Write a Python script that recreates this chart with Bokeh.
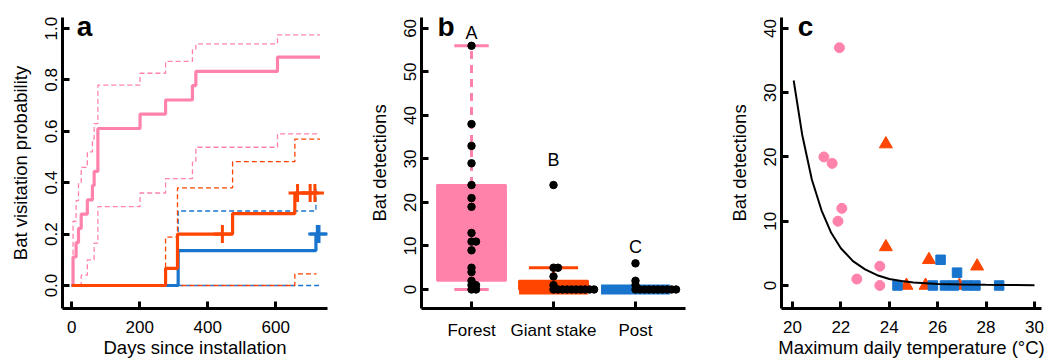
from bokeh.plotting import figure
from bokeh.layouts import row
from bokeh.models import FixedTicker, Label, Range1d, PrintfTickFormatter
from bokeh.embed import file_html
from bokeh.resources import INLINE
from bokeh.core.properties import value

PINK = "#FF82AB"
ORANGE = "#FF4500"
BLUE = "#1874CD"
FONT = "Liberation Sans"

# ---------------- Panel a: Kaplan-Meier style curves ----------------
forest_days = [0, 4, 13, 20, 28, 46, 61, 66, 77, 201, 276, 355, 365, 605, 730]
forest_prob = [0, 0.111, 0.167, 0.222, 0.278, 0.333, 0.389, 0.444, 0.611, 0.667, 0.722, 0.778, 0.833, 0.889, 0.889]
forest_up_days = [0, 4, 13, 20, 28, 46, 61, 66, 77, 201, 276, 355, 365, 605, 730]
forest_up = [0, 0.25, 0.33, 0.40, 0.46, 0.52, 0.57, 0.63, 0.78, 0.826, 0.872, 0.92, 0.94, 0.975, 0.975]
forest_lo_days = [0, 28, 46, 66, 77, 201, 276, 355, 365, 605, 730]
forest_lo = [0, 0.04, 0.10, 0.165, 0.307, 0.36, 0.416, 0.48, 0.538, 0.59, 0.59]

giant_days = [0, 276, 311, 473, 656, 715]
giant_prob = [0, 0.067, 0.2, 0.28, 0.36, 0.36]
giant_cens_days = [443, 664, 701, 715]
giant_cens_prob = [0.2, 0.36, 0.36, 0.36]
giant_up_days = [0, 276, 311, 473, 656, 730]
giant_up = [0, 0.188, 0.38, 0.482, 0.57, 0.57]
giant_lo_days = [276, 656, 720]
giant_lo = [0, 0.045, 0.045]

post_days = [0, 313, 718, 727]
post_prob = [0, 0.136, 0.2, 0.2]
post_cens_days = [722, 727]
post_cens_prob = [0.2, 0.2]
post_up_days = [0, 313, 718, 724]
post_up = [0, 0.29, 0.38, 0.38]
post_lo_days = [313, 727]
post_lo = [0, 0]

# ---------------- Panel b: detections per structure ----------------
cats = ["Forest", "Giant stake", "Post"]
forest_det = [56, 38, 33, 29, 24, 21, 19, 13, 11, 11, 9, 5, 4, 2, 1, 1, 0, 0]
giant_det = [24, 5, 5, 3, 1, 0, 0, 0, 0, 0, 0, 0, 0, 0, 0]
post_det = [6, 2, 1, 0, 0, 0, 0, 0, 0, 0, 0, 0, 0]
group_letters = ["A", "B", "C"]

# ---------------- Panel c: detections vs temperature ----------------
forest_temp = [21.94, 21.30, 21.64, 22.04, 21.88, 22.66, 23.61, 23.61]
forest_c = [37, 20, 19, 12, 10, 1, 3, 0]
giant_temp = [23.86, 23.86, 25.64, 27.63, 24.71, 25.50, 26.90]
giant_c = [22, 6, 4, 3, 0, 0, 0]
post_temp = [24.34, 25.80, 26.12, 26.30, 26.67, 26.80, 27.20, 27.56, 28.54]
post_c = [0, 0, 4, 0, 0, 2, 0, 0, 0]
fit_temp = [20.05, 20.4, 20.8, 21.2, 21.6, 22.0, 22.5, 23.0, 23.5, 24.0, 24.5, 25.0, 26.0, 27.0, 28.0, 29.0, 30.0]
fit_det = [31.9, 23.5, 16.5, 11.7, 8.2, 5.8, 3.8, 2.5, 1.6, 1.0, 0.7, 0.45, 0.25, 0.15, 0.1, 0.07, 0.05]


def style(p, yl, xl):
    p.xgrid.visible = False
    p.ygrid.visible = False
    p.outline_line_color = None
    p.background_fill_color = "white"
    p.border_fill_color = "white"
    for ax in (p.xaxis[0], p.yaxis[0]):
        ax.axis_line_width = 3
        ax.axis_line_color = "black"
        ax.major_tick_line_width = 3
        ax.major_tick_line_color = "black"
        ax.major_tick_in = 7
        ax.major_tick_out = 0
        ax.minor_tick_line_color = None
        ax.major_label_text_font = FONT
        ax.major_label_text_font_size = "17px"
        ax.major_label_text_color = "black"
        ax.axis_label_text_font = FONT
        ax.axis_label_text_font_size = "18.5px"
        ax.axis_label_text_font_style = "normal"
        ax.axis_label_text_color = "black"
    p.yaxis[0].axis_label = yl
    p.xaxis[0].axis_label = xl
    p.yaxis[0].major_label_orientation = "vertical"
    p.yaxis[0].major_label_standoff = 5
    p.yaxis[0].axis_label_standoff = 12
    p.xaxis[0].major_label_standoff = 12
    p.xaxis[0].axis_label_standoff = 1


H = 360


def mk(width, left, right, xr, yr):
    return figure(width=width, height=H, min_border_left=left, min_border_right=right,
                  min_border_top=17, min_border_bottom=H - 17 - 291,
                  x_range=Range1d(*xr), y_range=Range1d(*yr),
                  output_backend="svg", toolbar_location=None, tools="")


def panel_label(p, x, y, t):
    p.add_layout(Label(x=x, y=y, text=t, text_font=FONT, text_font_style="bold",
                       text_font_size="28px", text_baseline="alphabetic", text_color="black"))


# ---- panel a ----
pa = mk(363, 62, 36, (-27, 752), (-0.0895, 1.043))
style(pa, "Bat visitation probability", "Days since installation")
pa.xaxis[0].ticker = FixedTicker(ticks=[0, 200, 400, 600])
pa.yaxis[0].ticker = FixedTicker(ticks=[0, 0.2, 0.4, 0.6, 0.8, 1.0])
pa.yaxis[0].formatter = PrintfTickFormatter(format="%.1f")

dash = "5 3"
pa.step(post_lo_days, post_lo, mode="after", color=BLUE, line_width=1.3, line_dash=dash)
pa.step(post_up_days, post_up, mode="after", color=BLUE, line_width=1.3, line_dash=dash)
pa.step(giant_lo_days, giant_lo, mode="after", color=ORANGE, line_width=1.3, line_dash=dash)
pa.step(giant_up_days, giant_up, mode="after", color=ORANGE, line_width=1.3, line_dash=dash)
pa.step(forest_lo_days, forest_lo, mode="after", color=PINK, line_width=1.3, line_dash=dash)
pa.step(forest_up_days, forest_up, mode="after", color=PINK, line_width=1.3, line_dash=dash)
pa.step(forest_days, forest_prob, mode="after", color=PINK, line_width=3.2)
pa.step(post_days, post_prob, mode="after", color=BLUE, line_width=3.2)
pa.step(giant_days, giant_prob, mode="after", color=ORANGE, line_width=3.2)
pa.scatter(post_cens_days, post_cens_prob, marker="cross", size=18, line_width=3, color=BLUE)
pa.scatter(giant_cens_days, giant_cens_prob, marker="cross", size=18, line_width=3, color=ORANGE)
panel_label(pa, 15, 1.008, "a")

# ---- panel b ----
pb = mk(362, 58, 40, (0.39, 3.61), (-4.37, 62.5))
style(pb, "Bat detections", "")
pb.xaxis[0].ticker = FixedTicker(ticks=[1, 2, 3])
pb.xaxis[0].major_label_overrides = {i + 1: c for i, c in enumerate(cats)}
pb.yaxis[0].ticker = FixedTicker(ticks=[0, 10, 20, 30, 40, 50, 60])
pb.xaxis[0].axis_label = None


def fivenum(v):
    s = sorted(v)
    n = len(s)
    n4 = ((n + 3) // 2) / 2.0

    def at(d):
        lo = int(d) - 1
        hi = int(-(-d // 1)) - 1
        return 0.5 * (s[lo] + s[hi])
    return [s[0], at(n4), at((n + 1) / 2.0), at(n + 1 - n4), s[-1]]


colors = [PINK, ORANGE, BLUE]
caps = [0.21, 0.30, 0.25]
for i, (vals, col) in enumerate(zip([forest_det, giant_det, post_det], colors)):
    xc = i + 1
    mn, q1, med, q3, mx = fivenum(vals)
    iqr = q3 - q1
    hi = max(v for v in vals if v <= q3 + 1.5 * iqr)
    lo = min(v for v in vals if v >= q1 - 1.5 * iqr)
    hw = 0.42
    pb.quad(left=[xc - hw], right=[xc + hw], bottom=[q1], top=[q3], fill_color=col,
            line_color=col, line_width=2)
    pb.segment(x0=[xc - hw], x1=[xc + hw], y0=[med], y1=[med], color=col, line_width=10)
    if hi > q3:
        pb.segment(x0=[xc], x1=[xc], y0=[q3], y1=[hi], color=col, line_width=3,
                   line_dash="8 6" if i == 0 else "solid")
        pb.segment(x0=[xc - caps[i]], x1=[xc + caps[i]], y0=[hi], y1=[hi], color=col, line_width=3)
    if lo < q1:
        pb.segment(x0=[xc], x1=[xc], y0=[q1], y1=[lo], color=col, line_width=3,
                   line_dash="8 6" if i == 0 else "solid")
        pb.segment(x0=[xc - caps[i]], x1=[xc + caps[i]], y0=[lo], y1=[lo], color=col, line_width=3)
    counts = {}
    xs, ys = [], []
    for v in vals:
        k = counts.get(v, 0)
        counts[v] = k + 1
        xs.append(xc + k * 0.055)
        ys.append(v)
    pb.scatter(xs, ys, size=7.5, color="black")

letter_y = [59.0, 29.7, 9.7]
pb.text(x=[1, 2, 3], y=letter_y, text=group_letters, text_align="center", text_baseline="alphabetic",
        text_font=value(FONT), text_font_size="18px", text_color="black")
panel_label(pb, 0.585, 60.4, "b")

# ---- panel c ----
pc = mk(325, 55, 9, (19.547, 30.29), (-3.58, 41.7))
style(pc, "Bat detections", "Maximum daily temperature (°C)")
pc.xaxis[0].ticker = FixedTicker(ticks=[20, 22, 24, 26, 28, 30])
pc.yaxis[0].ticker = FixedTicker(ticks=[0, 10, 20, 30, 40])
pc.scatter(forest_temp, forest_c, marker="circle", size=10, color=PINK)
pc.scatter(giant_temp, giant_c, marker="triangle", size=13, color=ORANGE)
pc.scatter(post_temp, post_c, marker="square", size=9.5, color=BLUE)
pc.line(fit_temp, fit_det, color="black", line_width=2)
panel_label(pc, 20.22, 40.3, "c")

layout = row(pa, pb, pc)
open("out.html", "w").write(file_html(layout, INLINE))
